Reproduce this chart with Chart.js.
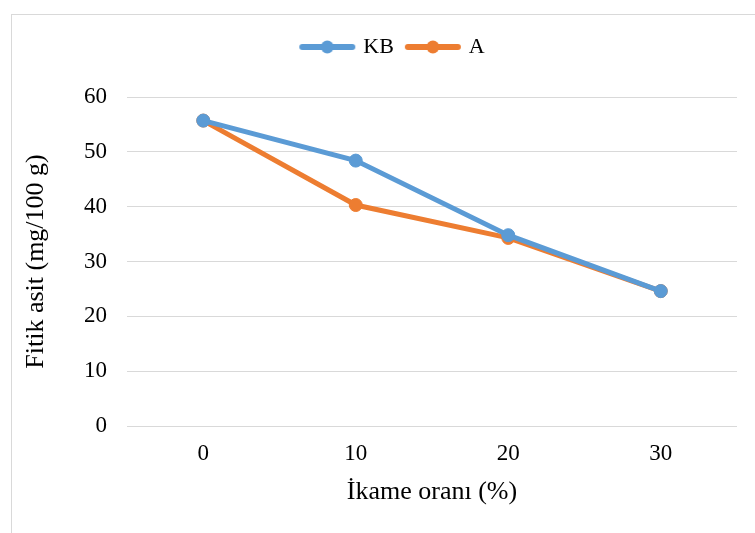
<!DOCTYPE html>
<html lang="tr">
  <head>
    <meta charset="UTF-8" />
    <title>Fitik asit</title>
    <style>
      * {
        margin: 0;
        padding: 0;
        box-sizing: border-box;
      }
      body {
        width: 755px;
        height: 533px;
        background: #fff;
        overflow: hidden;
        position: relative;
      }
      .frame {
        position: absolute;
        left: 11px;
        top: 14px;
        width: 800px;
        height: 600px;
        border: 1px solid #d9d9d9;
      }
      .container {
        position: absolute;
        left: 0;
        top: 0;
        width: 755px;
        height: 533px;
      }
    </style>
  </head>
  <body>
    <div class="frame"></div>
    <div class="container">
      <canvas id="chart"></canvas>
    </div>

    <script src="https://cdn.jsdelivr.net/npm/chart.js@4/dist/chart.umd.min.js"></script>
    <script>
      // Data
      const categories = ["0", "10", "20", "30"];
      const kbValues = [55.7, 48.4, 34.8, 24.6];
      const aValues = [55.7, 40.3, 34.3, 24.6];
      const seriesNames = ["KB", "A"];

      const blue = "#5b9bd5";
      const orange = "#ed7d31";
      const font = "'Liberation Serif', 'Times New Roman', serif";

      // legend symbol: line with a dot on it, like the office legend
      function legendIcon(color) {
        const c = document.createElement("canvas");
        c.width = 58;
        c.height = 16;
        const g = c.getContext("2d");
        g.strokeStyle = color;
        g.lineWidth = 6;
        g.lineCap = "round";
        g.beginPath();
        g.moveTo(4, 8);
        g.lineTo(54, 8);
        g.stroke();
        g.fillStyle = color;
        g.beginPath();
        g.arc(29, 8, 6.5, 0, Math.PI * 2);
        g.fill();
        return c;
      }
      const icons = [legendIcon(blue), legendIcon(orange)];

      // more room under the legend, and nudge it right a little
      const legendTweak = {
        id: "legendTweak",
        afterInit(chart) {
          const lg = chart.legend;
          const fit = lg.fit;
          lg.fit = function () {
            fit.call(this);
            this.height += 29;
          };
          const draw = lg.draw;
          lg.draw = function () {
            this.ctx.save();
            this.ctx.translate(15, 0);
            draw.apply(this, arguments);
            this.ctx.restore();
          };
        },
      };

      const ctx = document.getElementById("chart");
      new Chart(ctx, {
        type: "line",
        plugins: [legendTweak],
        data: {
          labels: categories,
          datasets: [
            {
              label: seriesNames[0],
              data: kbValues,
              borderColor: blue,
              backgroundColor: blue,
            },
            {
              label: seriesNames[1],
              data: aValues,
              borderColor: orange,
              backgroundColor: orange,
            },
          ],
        },
        options: {
          responsive: true,
          maintainAspectRatio: false,
          animation: false,
          layout: {
            padding: { top: 22, right: 18, bottom: 14, left: 20 },
          },
          elements: {
            line: { tension: 0, borderWidth: 5, borderCapStyle: "round" },
            point: { pointStyle: "circle", radius: 6.5, borderWidth: 1 },
          },
          plugins: {
            tooltip: { enabled: false },
            legend: {
              position: "top",
              labels: {
                usePointStyle: true,
                pointStyleWidth: 50,
                color: "#000",
                padding: 14,
                font: { family: font, size: 22 },
                generateLabels(chart) {
                  const items =
                    Chart.defaults.plugins.legend.labels.generateLabels(chart);
                  items.forEach((it, i) => {
                    it.pointStyle = icons[i];
                  });
                  return items;
                },
              },
            },
          },
          scales: {
            x: {
              offset: true,
              afterFit: (s) => {
                s.height = 93;
              },
              grid: { display: false, drawTicks: false },
              border: { display: false },
              ticks: {
                color: "#000",
                padding: 14,
                font: { family: font, size: 23 },
              },
              title: {
                display: true,
                text: "İkame oranı (%)",
                color: "#000",
                padding: { top: 0, bottom: 11 },
                font: { family: font, size: 26 },
              },
            },
            y: {
              min: 0,
              max: 60,
              afterFit: (s) => {
                s.width = 107;
              },
              grid: { color: "#d9d9d9", lineWidth: 1, drawTicks: false },
              border: { display: false },
              ticks: {
                stepSize: 10,
                color: "#000",
                padding: 20,
                font: { family: font, size: 23 },
              },
              title: {
                display: true,
                text: "Fitik asit (mg/100 g)",
                color: "#000",
                padding: { top: 1, bottom: 0 },
                font: { family: font, size: 26 },
              },
            },
          },
        },
      });
    </script>
  </body>
</html>
